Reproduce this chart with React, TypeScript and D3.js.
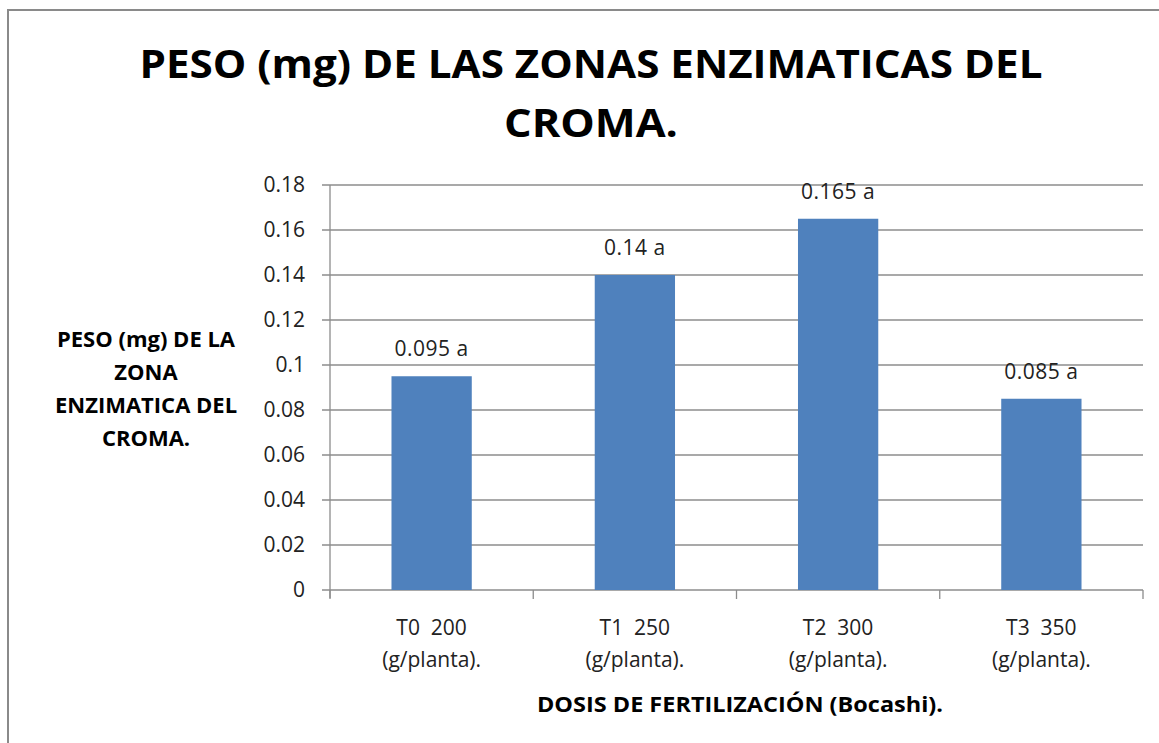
import React, { useEffect, useRef } from "react";
import * as d3 from "d3";

const categories = ["T0  200", "T1  250", "T2  300", "T3  350"];
const subLabel = "(g/planta).";
const values = [0.095, 0.14, 0.165, 0.085];
const barLabels = ["0.095 a", "0.14 a", "0.165 a", "0.085 a"];
const yTicks = [0, 0.02, 0.04, 0.06, 0.08, 0.1, 0.12, 0.14, 0.16, 0.18];
const titleLines = ["PESO (mg) DE LAS ZONAS ENZIMATICAS DEL", "CROMA."];
const yTitleLines = ["PESO (mg) DE LA", "ZONA", "ENZIMATICA DEL", "CROMA."];
const xTitle = "DOSIS DE FERTILIZACIÓN (Bocashi).";

const FONT = "'Open Sans', Lato, sans-serif";

const App = () => {
  const ref = useRef<SVGSVGElement>(null);

  useEffect(() => {
    const svg = d3.select(ref.current);
    svg.selectAll("*").remove();

    const left = 330;
    const right = 1143;
    const top = 185;
    const bottom = 590;

    // outer frame (runs off the right/bottom edge)
    svg
      .append("rect")
      .attr("x", 8)
      .attr("y", 10)
      .attr("width", 1300)
      .attr("height", 900)
      .attr("fill", "#fff")
      .attr("stroke", "#8a8a8a")
      .attr("stroke-width", 2);

    const x = d3.scaleBand().domain(categories).range([left, right]).padding(0);
    const y = d3.scaleLinear().domain([0, 0.18]).range([bottom, top]);

    // gridlines
    svg
      .append("g")
      .selectAll("line")
      .data(yTicks)
      .enter()
      .append("line")
      .attr("x1", left - 8)
      .attr("x2", right)
      .attr("y1", (d) => y(d))
      .attr("y2", (d) => y(d))
      .attr("stroke", "#8c8c8c")
      .attr("stroke-width", 1.3);

    // y axis line
    svg
      .append("line")
      .attr("x1", left)
      .attr("x2", left)
      .attr("y1", top)
      .attr("y2", bottom + 8)
      .attr("stroke", "#8c8c8c")
      .attr("stroke-width", 1.3);

    // y tick labels
    svg
      .append("g")
      .selectAll("text")
      .data(yTicks)
      .enter()
      .append("text")
      .attr("x", left - 25)
      .attr("y", (d) => y(d))
      .attr("dy", "0.35em")
      .attr("text-anchor", "end")
      .style("font-family", FONT)
      .style("font-size", "21px")
      .style("fill", "#222")
      .text((d) => (d === 0 ? "0" : String(+d.toFixed(2))));

    // x category ticks
    const edges = categories.map((c) => x(c) as number).concat([right]);
    svg
      .append("g")
      .selectAll("line")
      .data(edges)
      .enter()
      .append("line")
      .attr("x1", (d) => d)
      .attr("x2", (d) => d)
      .attr("y1", bottom)
      .attr("y2", bottom + 9)
      .attr("stroke", "#8c8c8c")
      .attr("stroke-width", 1.3);

    // bars
    const barW = x.bandwidth() * 0.395;
    svg
      .append("g")
      .selectAll("rect")
      .data(values)
      .enter()
      .append("rect")
      .attr("x", (d, i) => (x(categories[i]) as number) + (x.bandwidth() - barW) / 2)
      .attr("y", (d) => y(d))
      .attr("width", barW)
      .attr("height", (d) => bottom - y(d))
      .attr("fill", "#4F81BD");

    // bar value labels
    svg
      .append("g")
      .selectAll("text")
      .data(values)
      .enter()
      .append("text")
      .attr("x", (d, i) => (x(categories[i]) as number) + x.bandwidth() / 2)
      .attr("y", (d) => y(d) - 20)
      .attr("text-anchor", "middle")
      .style("font-family", FONT)
      .style("font-size", "21px")
      .style("letter-spacing", "0.5px")
      .style("fill", "#222")
      .text((d, i) => barLabels[i]);

    // category labels
    const cat = svg
      .append("g")
      .selectAll("text")
      .data(categories)
      .enter()
      .append("text")
      .attr("text-anchor", "middle")
      .style("font-family", FONT)
      .style("font-size", "21px")
      .style("fill", "#222");
    cat
      .append("tspan")
      .attr("x", (d) => (x(d) as number) + x.bandwidth() / 2)
      .attr("y", 635)
      .style("white-space", "pre")
      .text((d) => d);
    cat
      .append("tspan")
      .attr("x", (d) => (x(d) as number) + x.bandwidth() / 2)
      .attr("y", 667)
      .text(subLabel);

    // chart title
    svg
      .append("g")
      .selectAll("text")
      .data(titleLines)
      .enter()
      .append("text")
      .attr("x", 591)
      .attr("y", (d, i) => 78 + i * 59)
      .attr("text-anchor", "middle")
      .attr("textLength", (d, i) => (i === 0 ? 903 : 174))
      .attr("lengthAdjust", "spacingAndGlyphs")
      .style("font-family", FONT)
      .style("font-size", "39px")
      .style("font-weight", "bold")
      .style("fill", "#000")
      .text((d) => d);

    // y axis title
    svg
      .append("g")
      .selectAll("text")
      .data(yTitleLines)
      .enter()
      .append("text")
      .attr("x", 146)
      .attr("y", (d, i) => 347 + i * 33)
      .attr("text-anchor", "middle")
      .style("font-family", FONT)
      .style("font-size", "22px")
      .style("font-weight", "bold")
      .style("fill", "#000")
      .text((d) => d);

    // x axis title
    svg
      .append("text")
      .attr("x", 740)
      .attr("y", 712)
      .attr("text-anchor", "middle")
      .attr("textLength", 406)
      .attr("lengthAdjust", "spacingAndGlyphs")
      .style("font-family", FONT)
      .style("font-size", "22px")
      .style("font-weight", "bold")
      .style("fill", "#000")
      .text(xTitle);
  }, []);

  return (
    <svg
      ref={ref}
      width={1159}
      height={743}
      style={{ position: "absolute", left: 0, top: 0, background: "#fff" }}
    ></svg>
  );
};

export default App;
